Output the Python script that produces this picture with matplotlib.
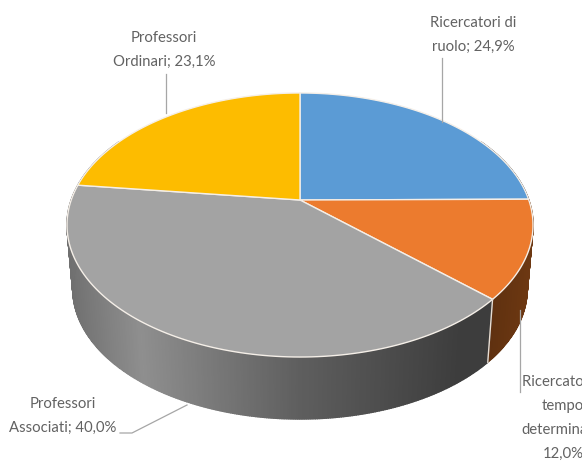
import numpy as np
import matplotlib
matplotlib.use("Agg")
import matplotlib.pyplot as plt

plt.rcParams['font.family'] = ['Lato', 'DejaVu Sans']

# slices, clockwise from 12 o'clock
labels = ["Ricercatori di\nruolo; 24,9%",
          "Ricercatori a\ntempo\ndeterminato;\n12,0%",
          "Professori\nAssociati; 40,0%",
          "Professori\nOrdinari; 23,1%"]
values = [24.9, 12.0, 40.0, 23.1]
colors = ["#5b9bd5", "#ec7b2e", "#a3a3a3", "#fdbc00"]

label_pos = [(473, 35), (563, 418), (63, 416), (164, 50)]
leaders = [[(442, 58), (442, 122)],
           [(520, 310), (520, 392)],
           [(120, 433), (132, 433), (187, 405)],
           [(166, 74), (166, 113)]]

edges = np.cumsum([0] + values) / 100.0 * 2 * np.pi

# perspective: circle centre lands above the middle of the ellipse
C = 0.1894


def top(a):
    u, v = np.sin(a), np.cos(a)
    d = 1 + C * v
    return 300 + 228.8 * u / d, (200 - 89.4 * v) / d


def bot(a):
    x, y = top(a)
    return 300 + (x - 300) * 0.975, 289 + (y - 225) * 0.985


def wall_colour(i, x):
    if i == 1:
        g = np.interp(x, [490, 533], [0.0, 1.0])
        return np.array([0.37, 0.19, 0.06]) + g * np.array([0.06, 0.03, 0.01])
    g = np.interp(x, [67, 140, 300, 460, 533], [0.44, 0.56, 0.37, 0.24, 0.24])
    return (g, g, g)


fig = plt.figure(figsize=(5.82, 4.61), dpi=100)
ax = fig.add_axes([0, 0, 1, 1])
ax.set_xlim(0, 582)
ax.set_ylim(461, 0)
ax.axis("off")

# side wall as thin strips
for i in range(len(values)):
    lo, hi = max(edges[i], np.radians(60)), min(edges[i + 1], np.radians(300))
    if hi <= lo:
        continue
    aa = np.arange(lo, hi + 0.004, 0.008)
    for a0, a1 in zip(aa[:-1], aa[1:]):
        x0, y0 = top(a0)
        x1, y1 = top(a1)
        x2, y2 = bot(a1)
        x3, y3 = bot(a0)
        ax.fill([x0, x1, x2, x3], [y0, y1, y2, y3],
                color=wall_colour(i, x0), lw=1.0)

# light seam on the wall between orange and grey
sx0, sy0 = top(edges[2])
sx1, sy1 = bot(edges[2])
ax.plot([sx0, sx1], [sy0, sy1], color="#e8ddd2", lw=1.0)

# top face
for i in range(len(values)):
    aa = np.linspace(edges[i], edges[i + 1], 120)
    xs, ys = top(aa)
    ax.fill(np.r_[300, xs], np.r_[200, ys], facecolor=colors[i],
            edgecolor="#f5efe8", lw=1.0, joinstyle="round")

for pts in leaders:
    ax.plot([p[0] for p in pts], [p[1] for p in pts], color="#a6a6a6", lw=0.9)

for lab, (x, y) in zip(labels, label_pos):
    ax.text(x, y, lab, ha="center", va="center", fontsize=10.7,
            color="#626262", linespacing=1.9)

fig.savefig("out.png", dpi=100)
